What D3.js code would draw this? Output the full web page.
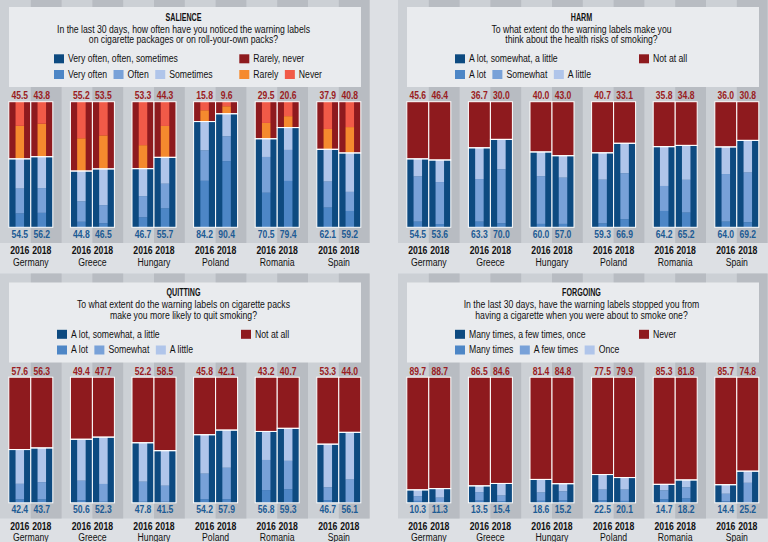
<!DOCTYPE html>
<html><head><meta charset="utf-8">
<script src="https://cdn.jsdelivr.net/npm/d3@7"></script>
<style>
html,body{margin:0;padding:0;background:#dde0e4;}
text{font-family:"Liberation Sans",Arial,sans-serif;}
</style></head>
<body>
<svg id="c" width="768" height="542"></svg>
<script>
// ---------- DATA ----------
const countries = ["Germany","Greece","Hungary","Poland","Romania","Spain"];
const years = ["2016","2018"];

// order: Germany 2016, Germany 2018, Greece 2016, ... Spain 2018
const salienceYes = [54.5,56.2,44.8,46.5,46.7,55.7,84.2,90.4,70.5,79.4,62.1,59.2];
const salienceNo  = [45.5,43.8,55.2,53.5,53.3,44.3,15.8,9.6,29.5,20.6,37.9,40.8];
const salienceVeryOften = [11.0,11.5,4.4,3.2,7.9,15.0,37.0,52.6,27.5,36.9,15.7,13.0];
const salienceOften     = [19.8,19.7,16.2,14.4,16.9,19.7,24.2,19.8,28.5,24.7,20.7,15.2];
const salienceSometimes = [23.7,25.0,24.2,28.9,21.9,21.0,23.0,18.0,14.5,17.8,25.7,31.0];
const salienceRarely    = [26.3,26.3,26.1,26.7,18.7,25.0,9.0,6.0,12.6,9.1,16.2,20.6];
const salienceNever     = [19.2,17.5,29.1,26.8,34.6,19.3,6.8,3.6,16.9,11.5,21.7,20.2];

const harmYes = [54.5,53.6,63.3,70.0,60.0,57.0,59.3,66.9,64.2,65.2,64.0,69.2];
const harmNo  = [45.6,46.4,36.7,30.0,40.0,43.0,40.7,33.1,35.8,34.8,36.0,30.8];
const harmALot     = [4.5,2.6,4.5,3.2,2.7,2.7,3.1,6.4,13.0,11.7,4.5,4.0];
const harmSomewhat = [36.0,33.4,33.9,43.0,38.0,36.8,34.8,36.6,19.9,26.1,37.9,39.6];
const harmALittle  = [14.0,17.6,24.9,23.8,19.3,17.5,21.4,23.9,31.3,27.4,21.6,25.6];

const quitYes = [42.4,43.7,50.6,52.3,47.8,41.5,54.2,57.9,56.8,59.3,46.7,56.1];
const quitNo  = [57.6,56.3,49.4,47.7,52.2,58.5,45.8,42.1,43.2,40.7,53.3,44.0];
const quitALot     = [2.7,2.7,2.1,0.8,0.8,0.8,2.9,2.9,10.1,10.7,2.1,0.5];
const quitSomewhat = [12.4,13.7,15.5,14.2,16.0,12.8,20.3,25.0,24.0,22.7,10.2,18.0];
const quitALittle  = [27.3,27.3,33.0,37.3,31.0,27.9,31.0,30.0,22.7,25.9,34.4,37.6];

const forgoYes = [10.3,11.3,13.5,15.4,18.6,15.2,22.5,20.1,14.7,18.2,14.4,25.2];
const forgoNo  = [89.7,88.7,86.5,84.6,81.4,84.8,77.5,79.9,85.3,81.8,85.7,74.8];
const forgoMany = [1.5,0.6,1.7,1.3,1.6,1.9,2.0,1.5,2.8,3.5,1.1,0.5];
const forgoFew  = [3.8,3.5,6.8,4.5,6.6,7.2,8.5,9.0,7.1,8.8,6.1,15.4];
const forgoOnce = [5.0,7.2,5.0,9.6,10.4,6.1,12.0,9.6,4.8,5.9,7.2,9.3];

const titles = ["SALIENCE","HARM","QUITTING","FORGOING"];
const questions = [
  ["In the last 30 days, how often have you noticed the warning labels","on cigarette packages or on roll-your-own packs?"],
  ["To what extent do the warning labels make you","think about the health risks of smoking?"],
  ["To what extent do the warning labels on cigarette packs","make you more likely to quit smoking?"],
  ["In the last 30 days, have the warning labels stopped you from","having a cigarette when you were about to smoke one?"]
];
const yesLabels = ["Very often, often, sometimes","A lot, somewhat, a little","A lot, somewhat, a little","Many times, a few times, once"];
const noLabels  = ["Rarely, never","Not at all","Not at all","Never"];
const yesSubLabels = [["Very often","Often","Sometimes"],["A lot","Somewhat","A little"],["A lot","Somewhat","A little"],["Many times","A few times","Once"]];
const noSubLabels  = [["Rarely","Never"],[],[],[]];

// ---------- STYLE ----------
const C = {
  bg:"#dde0e4", band:"#ccd0d5", band2:"#b8bcc2", head:"#e9ebee",
  blue:"#0d4a80", b1:"#4d86c6", b2:"#78a1d8", b3:"#b0c5ea",
  red:"#8e1a1e", orange:"#f58a2e", coral:"#f15a48",
  redText:"#9a1c22", blueText:"#1d5b94", text:"#111111"
};
const FS = 10;

const panels = [
  {yes:salienceYes,no:salienceNo,yesSub:[salienceVeryOften,salienceOften,salienceSometimes],noSub:[salienceRarely,salienceNever]},
  {yes:harmYes,no:harmNo,yesSub:[harmALot,harmSomewhat,harmALittle],noSub:[]},
  {yes:quitYes,no:quitNo,yesSub:[quitALot,quitSomewhat,quitALittle],noSub:[]},
  {yes:forgoYes,no:forgoNo,yesSub:[forgoMany,forgoFew,forgoOnce],noSub:[]}
];
const origins = [[0,0],[398,0],[0,275.5],[398,275.5]];
const yesSubColors = [C.b1,C.b2,C.b3];
const noSubColors = [C.orange,C.coral];

const svg = d3.select("#c");
svg.append("rect").attr("width",768).attr("height",542).attr("fill",C.bg);

// measure helper for horizontal condensing (reference font is a condensed sans)
function measure(str,weight){
  const t = svg.append("text").attr("font-size",FS).attr("font-weight",weight).text(str);
  const w = t.node().getComputedTextLength(); t.remove(); return w;
}
const kReg = 253/measure(questions[0][0],"normal");
const kNum = 16.7/measure("45.5","bold");
const kYear = 19.3/measure("2016","bold");
const kTitle = 36/measure("SALIENCE","bold");
const kCountry = 35.7/measure("Germany","normal");
function fit(t,k){
  const w = t.node().getComputedTextLength();
  t.attr("textLength",w*k).attr("lengthAdjust","spacingAndGlyphs");
  return w*k;
}

const areaW = 369.6;
const x = d3.scaleBand().domain(countries).range([0,areaW]);
const xy = d3.scaleBand().domain(years).range([0,x.bandwidth()]);
const y = d3.scaleLinear().domain([0,100]).range([227.3,101.7]);
const barW = 22, innerW = 8.5;

function barX(c,yr){
  const s = x(c)+xy(yr);
  return yr==="2016" ? s + xy.bandwidth() - barW : s;
}

panels.forEach((P,pi)=>{
  const [ox,oy] = origins[pi];
  const g = svg.append("g").attr("transform",`translate(${ox},${oy})`);
  g.append("rect").attr("x",0).attr("y",-2).attr("width",areaW).attr("height",245).attr("fill",C.band);
  g.selectAll(".b2").data(countries).enter().append("rect")
    .attr("x",d=>x(d)+xy("2018")).attr("y",-2).attr("width",xy.bandwidth()).attr("height",245).attr("fill",C.band2);

  // header
  g.append("rect").attr("x",9).attr("y",7).attr("width",352).attr("height",80).attr("fill",C.head);
  const cx = 183.5;
  fit(g.append("text").attr("x",cx).attr("y",20.8).attr("text-anchor","middle")
    .attr("font-size",FS).attr("font-weight","bold").attr("fill",C.text).text(titles[pi]),kTitle);
  questions[pi].forEach((q,i)=>{
    fit(g.append("text").attr("x",cx).attr("y",32.6+i*10.6).attr("text-anchor","middle")
      .attr("font-size",FS).attr("fill",C.text).text(q),kReg);
  });

  // legend
  const lx = pi===0 ? 54 : 57, rx = pi===0 ? 239.3 : 241;
  function legItem(xx,yy,col,label){
    g.append("rect").attr("x",xx).attr("y",yy).attr("width",10).attr("height",9).attr("fill",col);
    const t = g.append("text").attr("x",xx+14).attr("y",yy+7.8).attr("font-size",FS).attr("fill",C.text).text(label);
    const w = fit(t,kReg);
    return xx+14+w+6.5;
  }
  legItem(lx,54.3,C.blue,yesLabels[pi]);
  legItem(rx,54.3,C.red,noLabels[pi]);
  let nx = lx;
  yesSubLabels[pi].forEach((l,i)=>{ nx = legItem(nx,70,yesSubColors[i],l); });
  let mx = rx;
  noSubLabels[pi].forEach((l,i)=>{ mx = legItem(mx,70,noSubColors[i],l); });

  // bars
  const items = [];
  countries.forEach((c,ci)=>years.forEach((yr,yi)=>items.push({c,yr,i:ci*2+yi})));
  items.forEach(d=>{
    const bx = barX(d.c,d.yr);
    const yes = P.yes[d.i], no = P.no[d.i];
    const bar = g.append("g");
    bar.append("rect").attr("x",bx).attr("y",y(100)).attr("width",barW).attr("height",y(yes)-y(100)).attr("fill",C.red);
    bar.append("rect").attr("x",bx).attr("y",y(yes)).attr("width",barW).attr("height",y(0)-y(yes)).attr("fill",C.blue);
    const ix = bx + (barW-innerW)/2;
    let acc = 0;
    P.yesSub.forEach((arr,k)=>{
      const v = arr[d.i];
      bar.append("rect").attr("x",ix).attr("y",y(acc+v)).attr("width",innerW).attr("height",y(acc)-y(acc+v)).attr("fill",yesSubColors[k]);
      acc += v;
    });
    let acc2 = yes;
    P.noSub.forEach((arr,k)=>{
      const v = arr[d.i];
      bar.append("rect").attr("x",ix).attr("y",y(acc2+v)).attr("width",innerW).attr("height",y(acc2)-y(acc2+v)).attr("fill",noSubColors[k]);
      acc2 += v;
    });
    bar.append("rect").attr("x",bx).attr("y",y(100)).attr("width",barW).attr("height",y(yes)-y(100)).attr("fill","none").attr("stroke","#fff").attr("stroke-width",1);
    bar.append("rect").attr("x",bx).attr("y",y(yes)).attr("width",barW).attr("height",y(0)-y(yes)).attr("fill","none").attr("stroke","#fff").attr("stroke-width",1);

    const mxc = bx + barW/2;
    fit(g.append("text").attr("x",mxc).attr("y",99.2).attr("text-anchor","middle").attr("font-size",FS).attr("font-weight","bold").attr("fill",C.redText).text(no.toFixed(1)),kNum);
    fit(g.append("text").attr("x",mxc).attr("y",237.5).attr("text-anchor","middle").attr("font-size",FS).attr("font-weight","bold").attr("fill",C.blueText).text(yes.toFixed(1)),kNum);
    fit(g.append("text").attr("x",mxc).attr("y",254.2).attr("text-anchor","middle").attr("font-size",FS).attr("font-weight","bold").attr("fill",C.text).text(d.yr),kYear);
  });
  countries.forEach(c=>{
    fit(g.append("text").attr("x",x(c)+x.bandwidth()/2).attr("y",265.7).attr("text-anchor","middle").attr("font-size",FS).attr("fill",C.text).text(c),kCountry);
  });
});
</script>
</body></html>
